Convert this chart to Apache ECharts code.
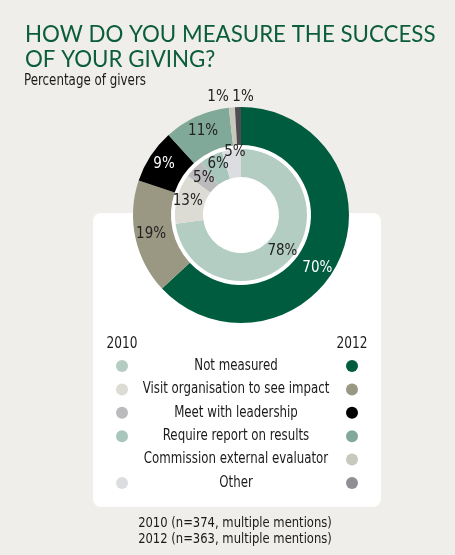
<!DOCTYPE html>
<html>
<head>
<meta charset="utf-8">
<script src="https://cdn.jsdelivr.net/npm/echarts@6/dist/echarts.min.js"></script>
<style>
  html, body { margin: 0; padding: 0; background: #efeeea; }
  #chart { width: 455px; height: 555px; }
</style>
</head>
<body>
<div id="chart"></div>
<script>
// Survey answers, percentage of givers (multiple mentions allowed)
const categories = [
  'Not measured',
  'Visit organisation to see impact',
  'Meet with leadership',
  'Require report on results',
  'Commission external evaluator',
  'Other'
];
const share2010 = [78, 13, 5, 6, null, 5];
const share2012 = [70, 19, 9, 11, 1, 1];

const colors2010 = ['#b3cdc3', '#dcdbd4', '#bbbbbe', '#a9c6bc', '#d6d6d2', '#dcdde0'];
const colors2012 = ['#005c3f', '#9a9782', '#000000', '#80a99a', '#c9c8bc', '#4d4d52'];
const legendDots2012 = ['#005c3f', '#9a9782', '#000000', '#80a99a', '#c9c8bc', '#909094'];
const lightLabel2012 = [true, false, true, false, false, false];

const FONT = '"Liberation Sans Narrow", "DejaVu Sans Condensed", sans-serif';
const CX = 241, CY = 215;
const OUTER = [70, 108];
const INNER = [38, 66];

const chart = echarts.init(document.getElementById('chart'), null, { renderer: 'canvas' });

const outerData = categories.map((name, i) => ({
  name,
  value: share2012[i],
  itemStyle: { color: colors2012[i] },
  label: { color: lightLabel2012[i] ? '#ffffff' : '#222222' }
}));

const innerData = categories
  .map((name, i) => ({ name, value: share2010[i], itemStyle: { color: colors2010[i] } }))
  .filter(d => d.value !== null);

// condensed text helper: narrow face squeezed a little further horizontally
function txt(text, x, y, size, squeeze, align) {
  return {
    type: 'text', x, y, scaleX: squeeze,
    style: { text, font: size + 'px ' + FONT, fill: '#1a1a1a', align: align || 'center', verticalAlign: 'middle' }
  };
}

// custom three-column legend: 2010 dot, category name, 2012 dot
const legendTop = 366, legendStep = 23.4;
const legendEls = [txt('2010', 122, 344, 15, 0.9), txt('2012', 352, 344, 15, 0.9)];
categories.forEach((name, i) => {
  const y = legendTop + i * legendStep;
  legendEls.push(txt(name, 236, y, 15, 0.875));
  if (share2010[i] !== null) {
    legendEls.push({ type: 'circle', shape: { cx: 122, cy: y, r: 6 }, style: { fill: colors2010[i] } });
  }
  if (share2012[i] !== null) {
    legendEls.push({ type: 'circle', shape: { cx: 352, cy: y, r: 6 }, style: { fill: legendDots2012[i] } });
  }
});

// small nudges for label placement inside the rings
const outerNudge = { 0: { dx: -8, dy: 16 } };
const innerNudge = { 2: { dx: 2, dy: 2 }, 3: { dx: 2, dy: -2 }, 4: { dx: 2, dy: -8 } };

chart.setOption({
  backgroundColor: '#efeeea',
  animation: false,
  title: [
    {
      text: 'HOW DO YOU MEASURE THE SUCCESS\nOF YOUR GIVING?',
      left: 20, top: 17,
      textStyle: { fontFamily: 'Lato, "Open Sans", sans-serif', fontWeight: 'normal', fontSize: 22.3, lineHeight: 25, color: '#0b5d3c' }
    }
  ],
  graphic: [
    { type: 'rect', z: -10, shape: { x: 93, y: 213, width: 288, height: 294, r: 8 }, style: { fill: '#ffffff' } },
    { type: 'circle', z: -5, shape: { cx: CX, cy: CY, r: OUTER[0] }, style: { fill: '#ffffff' } },
    txt('Percentage of givers', 24, 81, 15, 0.88, 'left'),
    ...legendEls,
    txt('2010 (n=374, multiple mentions)', 235, 523, 14, 0.92),
    txt('2012 (n=363, multiple mentions)', 235, 539, 14, 0.92)
  ],
  series: [
    {
      name: '2012',
      type: 'pie',
      center: [CX, CY],
      radius: OUTER,
      startAngle: 90,
      clockwise: true,
      silent: true,
      avoidLabelOverlap: false,
      label: {
        show: true, position: 'inside', formatter: '{c}%',
        fontFamily: FONT, fontSize: 15
      },
      labelLine: { show: false },
      labelLayout: function (p) {
        // the two thin slivers at the top carry their labels above the ring
        if (p.dataIndex === 4) return { x: CX - 23, y: CY - OUTER[1] - 10, align: 'center', verticalAlign: 'middle', hideOverlap: false };
        if (p.dataIndex === 5) return { x: CX + 2, y: CY - OUTER[1] - 10, align: 'center', verticalAlign: 'middle', hideOverlap: false };
        return Object.assign({ hideOverlap: false }, outerNudge[p.dataIndex] || {});
      },
      data: outerData
    },
    {
      name: '2010',
      type: 'pie',
      center: [CX, CY],
      radius: INNER,
      startAngle: 90,
      clockwise: true,
      silent: true,
      avoidLabelOverlap: false,
      label: {
        show: true, position: 'inside', formatter: '{c}%',
        fontFamily: FONT, fontSize: 15, color: '#222222'
      },
      labelLine: { show: false },
      labelLayout: function (p) {
        return Object.assign({ hideOverlap: false }, innerNudge[p.dataIndex] || {});
      },
      data: innerData
    }
  ]
});
</script>
</body>
</html>
